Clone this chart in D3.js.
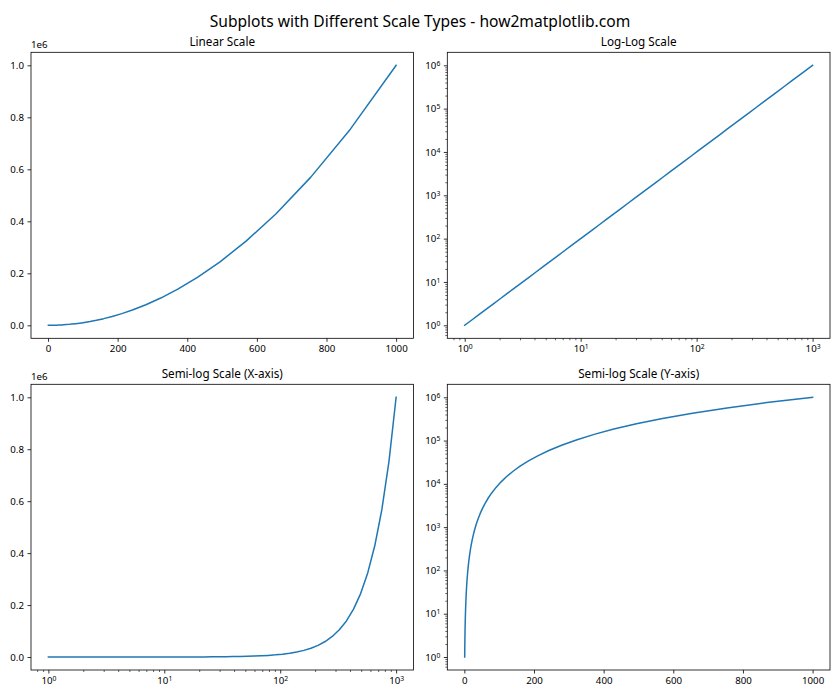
<!DOCTYPE html>
<html>
<head>
<meta charset="utf-8">
<script src="https://cdn.jsdelivr.net/npm/d3@7"></script>
<style>
  html, body { margin: 0; padding: 0; background: #fff; }
  svg { display: block; font-family: "Noto Sans", "Open Sans", sans-serif; }
</style>
</head>
<body>
<svg id="chart" width="840" height="700"></svg>
<script>
// ---- data (x = sample points, y = values) ----
const xValues = [1, 1.1514, 1.3257, 1.5264, 1.7575, 2.0236, 2.3300, 2.6827, 3.0888, 3.5565,
  4.0949, 4.7149, 5.4287, 6.2506, 7.1969, 8.2864, 9.5410, 10.985, 12.649, 14.563,
  16.768, 19.307, 22.230, 25.595, 29.471, 33.932, 39.069, 44.984, 51.795, 59.636,
  68.665, 79.060, 91.030, 104.81, 120.68, 138.95, 159.99, 184.21, 212.10, 244.21,
  281.18, 323.75, 372.76, 429.19, 494.17, 568.99, 655.13, 754.31, 868.51, 1000];
const yValues = [1, 1.3257, 1.7575, 2.3300, 3.0888, 4.0949, 5.4287, 7.1969, 9.5410, 12.649,
  16.768, 22.230, 29.471, 39.069, 51.795, 68.665, 91.030, 120.68, 159.99, 212.10,
  281.18, 372.76, 494.17, 655.13, 868.51, 1151.4, 1526.4, 2023.6, 2682.7, 3556.5,
  4714.9, 6250.6, 8286.4, 10985, 14563, 19307, 25595, 33932, 44984, 59636,
  79060, 104811, 138950, 184207, 244205, 323746, 429193, 568987, 754312, 1000000];

const suptitle = "Subplots with Different Scale Types - how2matplotlib.com";
const panelTitles = ["Linear Scale", "Log-Log Scale", "Semi-log Scale (X-axis)", "Semi-log Scale (Y-axis)"];
const panelScales = [["linear", "linear"], ["log", "log"], ["log", "linear"], ["linear", "log"]];
const linearXTicks = [0, 200, 400, 600, 800, 1000];
const linearYTicks = [0, 200000, 400000, 600000, 800000, 1000000];
const logXTicks = [1, 10, 100, 1000];
const logYTicks = [1, 10, 100, 1000, 10000, 100000, 1000000];
const offsetLabel = "1e6";

// ---- layout ----
const boxes = [
  {l: 31, t: 52.3, r: 413.5, b: 338.3},
  {l: 447.3, t: 52.3, r: 830, b: 338.3},
  {l: 31, t: 384.3, r: 413.5, b: 670},
  {l: 447.3, t: 384.3, r: 830, b: 670}
];
const lineColor = "#1f77b4";
const tickFont = 9.7;

const svg = d3.select("#chart");

svg.append("text")
  .attr("x", 420).attr("y", 27)
  .attr("text-anchor", "middle")
  .attr("font-size", 15.6)
  .attr("fill", "#000")
  .text(suptitle);

function paddedLinear(vals) {
  const [a, b] = d3.extent(vals);
  const p = (b - a) * 0.05;
  return [a - p, b + p];
}
function paddedLog(vals) {
  const [a, b] = d3.extent(vals).map(Math.log10);
  const p = (b - a) * 0.05;
  return [Math.pow(10, a - p), Math.pow(10, b + p)];
}
function minorTicks(domain) {
  const out = [];
  const lo = Math.floor(Math.log10(domain[0])), hi = Math.ceil(Math.log10(domain[1]));
  for (let e = lo; e <= hi; e++) {
    for (let m = 2; m <= 9; m++) {
      const v = m * Math.pow(10, e);
      if (v >= domain[0] && v <= domain[1]) out.push(v);
    }
  }
  return out;
}
function supLabels(sel) {
  sel.selectAll(".tick text").each(function(d) {
    const t = d3.select(this);
    const e = Math.round(Math.log10(d));
    t.text("");
    t.append("tspan").text("10");
    t.append("tspan").attr("dy", "-0.45em").attr("font-size", "0.7em").text(e);
  });
}
function styleAxis(g) {
  g.select(".domain").remove();
  g.selectAll(".tick line").attr("stroke", "#000").attr("stroke-width", 0.8);
  g.selectAll(".tick text").attr("fill", "#000").attr("font-size", tickFont)
    .attr("font-family", "Noto Sans, sans-serif");
}

panelScales.forEach(([xt, yt], i) => {
  const bx = boxes[i];
  const g = svg.append("g");
  const x = xt === "log"
    ? d3.scaleLog().domain(paddedLog(xValues)).range([bx.l, bx.r])
    : d3.scaleLinear().domain(paddedLinear(xValues)).range([bx.l, bx.r]);
  const y = yt === "log"
    ? d3.scaleLog().domain(paddedLog(yValues)).range([bx.b, bx.t])
    : d3.scaleLinear().domain(paddedLinear(yValues)).range([bx.b, bx.t]);

  // X axis
  const xa = g.append("g").attr("transform", `translate(0,${bx.b})`);
  if (xt === "log") {
    xa.call(d3.axisBottom(x).tickValues(logXTicks).tickSize(3.5).tickPadding(3.5));
    styleAxis(xa); supLabels(xa);
    const xm = g.append("g").attr("transform", `translate(0,${bx.b})`)
      .call(d3.axisBottom(x).tickValues(minorTicks(x.domain())).tickSize(2).tickFormat(""));
    styleAxis(xm); xm.selectAll(".tick line").attr("stroke-width", 0.6);
  } else {
    xa.call(d3.axisBottom(x).tickValues(linearXTicks).tickSize(3.5).tickPadding(3.5).tickFormat(d3.format("d")));
    styleAxis(xa);
  }

  // Y axis
  const ya = g.append("g").attr("transform", `translate(${bx.l},0)`);
  if (yt === "log") {
    ya.call(d3.axisLeft(y).tickValues(logYTicks).tickSize(3.5).tickPadding(3.5));
    styleAxis(ya); supLabels(ya);
    const ym = g.append("g").attr("transform", `translate(${bx.l},0)`)
      .call(d3.axisLeft(y).tickValues(minorTicks(y.domain())).tickSize(2).tickFormat(""));
    styleAxis(ym); ym.selectAll(".tick line").attr("stroke-width", 0.6);
  } else {
    ya.call(d3.axisLeft(y).tickValues(linearYTicks).tickSize(3.5).tickPadding(3.5)
      .tickFormat(d => d3.format(".1f")(d / 1e6)));
    styleAxis(ya);
    g.append("text").attr("x", bx.l).attr("y", bx.t - 4)
      .attr("font-size", tickFont).attr("fill", "#000").text(offsetLabel);
  }

  // line
  const pts = xValues.map((v, k) => [v, yValues[k]]);
  g.append("path")
    .datum(pts)
    .attr("fill", "none")
    .attr("stroke", lineColor)
    .attr("stroke-width", 1.5)
    .attr("stroke-linejoin", "round")
    .attr("stroke-linecap", "square")
    .attr("d", d3.line().x(d => x(d[0])).y(d => y(d[1])));

  // frame
  g.append("rect")
    .attr("x", bx.l).attr("y", bx.t)
    .attr("width", bx.r - bx.l).attr("height", bx.b - bx.t)
    .attr("fill", "none").attr("stroke", "#000").attr("stroke-width", 0.8);

  // title
  g.append("text")
    .attr("x", (bx.l + bx.r) / 2).attr("y", bx.t - 6)
    .attr("text-anchor", "middle")
    .attr("font-size", 11.7).attr("fill", "#000")
    .text(panelTitles[i]);
});
</script>
</body>
</html>
